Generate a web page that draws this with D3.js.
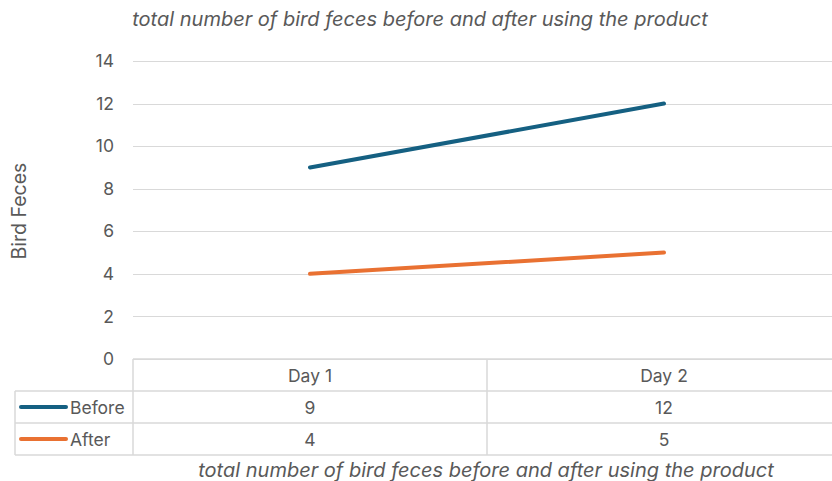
<!DOCTYPE html>
<html><head><meta charset="utf-8">
<script src="https://cdn.jsdelivr.net/npm/d3@7"></script>
<style>body{margin:0;background:#fff}svg{display:block}</style>
</head><body>
<script>
const categories = ["Day 1", "Day 2"];
const seriesNames = ["Before", "After"];
const beforeValues = [9, 12];
const afterValues = [4, 5];
const yTicks = [0, 2, 4, 6, 8, 10, 12, 14];
const colors = ["#156082", "#E97132"];
const titleText = "total number of bird feces before and after using the product";

const W = 832, H = 481;
const svg = d3.select("body").append("svg").attr("width", W).attr("height", H);
const font = "Inter, 'Open Sans', sans-serif";
const gray = "#595959", grid = "#d9d9d9";

const x = d3.scaleBand().domain(categories).range([133, 841]);
const y = d3.scaleLinear().domain([0, 14]).range([359, 61]);

// gridlines
svg.append("g").selectAll("line").data(yTicks).join("line")
  .attr("x1", 133).attr("x2", W).attr("y1", d => Math.round(y(d)) + 0.5).attr("y2", d => Math.round(y(d)) + 0.5)
  .attr("stroke", grid).attr("stroke-width", 1);

// y axis labels
const yAxis = d3.axisLeft(y).tickValues(yTicks).tickSize(0).tickPadding(0);
const ga = svg.append("g").attr("transform", "translate(114,0)").call(yAxis);
ga.select(".domain").remove();
ga.selectAll("text").attr("font-family", font).attr("font-size", 17.5).attr("fill", gray);

// y axis title
svg.append("text").attr("transform", "translate(26,211) rotate(-90)").attr("text-anchor", "middle")
  .attr("font-family", font).attr("font-size", 19.5).attr("fill", gray).text("Bird Feces");

// title
svg.append("text").attr("x", 420).attr("y", 26).attr("text-anchor", "middle")
  .attr("font-family", font).attr("font-style", "italic").attr("font-size", 20).attr("fill", gray).text(titleText);

// data table
const rowY = [359, 391, 423, 455];
const tg = svg.append("g").attr("stroke", grid).attr("stroke-width", 1.5);
tg.append("line").attr("x1", 133).attr("x2", W).attr("y1", rowY[0]).attr("y2", rowY[0]);
[1, 2, 3].forEach(i => tg.append("line").attr("x1", 15).attr("x2", W).attr("y1", rowY[i]).attr("y2", rowY[i]));
tg.append("line").attr("x1", 15).attr("x2", 15).attr("y1", rowY[1]).attr("y2", rowY[3]);
const vx = [133, 133 + x.bandwidth(), 133 + 2 * x.bandwidth()];
vx.forEach(v => tg.append("line").attr("x1", v).attr("x2", v).attr("y1", rowY[0]).attr("y2", rowY[3]));

svg.append("g").selectAll("text").data(categories).join("text")
  .attr("x", d => x(d) + x.bandwidth() / 2).attr("y", 382).attr("text-anchor", "middle")
  .attr("font-family", font).attr("font-size", 17.5).attr("fill", gray).text(d => d);

const series = [beforeValues, afterValues];
series.forEach((vals, si) => {
  const cy = (rowY[si + 1] + rowY[si + 2]) / 2;
  svg.append("line").attr("x1", 21).attr("x2", 66).attr("y1", cy).attr("y2", cy)
    .attr("stroke", colors[si]).attr("stroke-width", 4).attr("stroke-linecap", "round");
  svg.append("text").attr("x", 70).attr("y", cy + 6.5).attr("font-family", font).attr("font-size", 17.5)
    .attr("fill", gray).text(seriesNames[si]);
  svg.append("g").selectAll("text").data(vals).join("text")
    .attr("x", (d, i) => x(categories[i]) + x.bandwidth() / 2).attr("y", cy + 6.5).attr("text-anchor", "middle")
    .attr("font-family", font).attr("font-size", 17.5).attr("fill", gray).text(d => d);
});

// lines
const line = d3.line().x((d, i) => x(categories[i]) + x.bandwidth() / 2).y(d => y(d));
series.forEach((vals, si) => {
  svg.append("path").datum(vals).attr("d", line).attr("fill", "none")
    .attr("stroke", colors[si]).attr("stroke-width", 4).attr("stroke-linecap", "round");
});

// bottom title
svg.append("text").attr("x", 486).attr("y", 477).attr("text-anchor", "middle")
  .attr("font-family", font).attr("font-style", "italic").attr("font-size", 20).attr("fill", gray).text(titleText);
</script>
</body></html>
